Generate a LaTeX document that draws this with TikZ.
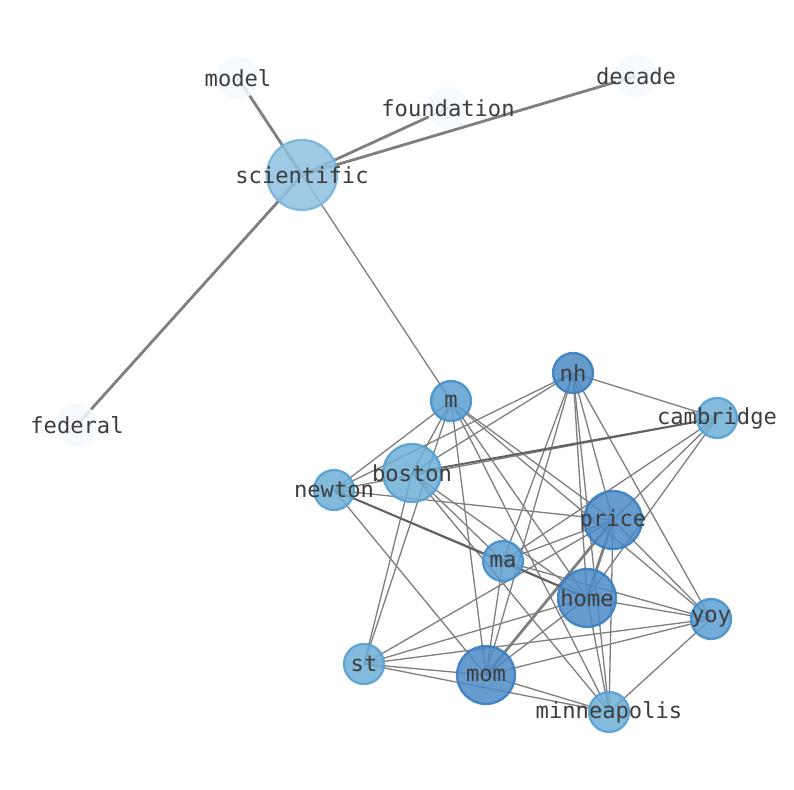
\documentclass[tikz,border=0pt]{standalone}
\usepackage{fontspec}
\setmonofont{DejaVu Sans Mono}
\usetikzlibrary{backgrounds}
\definecolor{palefill}{HTML}{F4F9FE}
\definecolor{scifill}{HTML}{8EC1E1}
\definecolor{sciline}{HTML}{78B4DB}
\definecolor{lightfill}{HTML}{6DAFD7}
\definecolor{lightline}{HTML}{55A1D3}
\definecolor{midfill}{HTML}{5C9FD1}
\definecolor{midline}{HTML}{4690CA}
\definecolor{darkfill}{HTML}{4B8AC6}
\definecolor{darkline}{HTML}{3A7DC0}
\definecolor{edgegray}{HTML}{7F7F7F}

\begin{document}
\begin{tikzpicture}[x=0.02cm,y=-0.02cm,
		word/.style={circle,inner sep=0pt,fill opacity=0.85,draw opacity=0.9,line width=1.3pt},
		pale/.style={word,minimum size=0.8cm,fill=palefill,draw=palefill},
		sci/.style={word,minimum size=1.4cm,fill=scifill,draw=sciline},
		small/.style={word,minimum size=0.8cm,fill=lightfill,draw=lightline},
		smallmid/.style={word,minimum size=0.8cm,fill=midfill,draw=midline},
		smalldark/.style={word,minimum size=0.8cm,fill=darkfill,draw=darkline},
		big/.style={word,minimum size=1.16cm,fill=lightfill,draw=lightline},
		bigdark/.style={word,minimum size=1.16cm,fill=darkfill,draw=darkline},
		lbl/.style={font=\ttfamily\fontsize{12.6}{14}\selectfont,text=black!76,text opacity=1,inner sep=0pt},
		link/.style={edgegray,line width=0.75pt},
		heavy/.style={edgegray,line width=1.6pt}
	]
	\useasboundingbox (0,0) rectangle (794,790);
	% words
	\node[pale, label={[lbl]center:model}] (model) at (238,78) {};
	\node[pale, label={[lbl]center:foundation}] (foundation) at (448,108) {};
	\node[pale, label={[lbl]center:decade}] (decade) at (636,76) {};
	\node[pale, label={[lbl]center:federal}] (federal) at (77,425) {};
	\node[sci, label={[lbl]center:scientific}] (scientific) at (302,175) {};
	\node[smallmid, label={[lbl]center:m}] (m) at (451,401) {};
	\node[smalldark, label={[lbl]center:nh}] (nh) at (573,373) {};
	\node[small, label={[lbl]center:cambridge}] (cambridge) at (717,418) {};
	\node[big, label={[lbl]center:boston}] (boston) at (412,473) {};
	\node[small, label={[lbl]center:newton}] (newton) at (334,490) {};
	\node[bigdark, label={[lbl]center:price}] (price) at (613,520) {};
	\node[smallmid, label={[lbl]center:ma}] (ma) at (503,561) {};
	\node[bigdark, label={[lbl]center:home}] (home) at (587,598) {};
	\node[smallmid, label={[lbl]center:yoy}] (yoy) at (711,619) {};
	\node[small, label={[lbl]center:st}] (st) at (364,664) {};
	\node[bigdark, label={[lbl]center:mom}] (mom) at (486,675) {};
	\node[small, label={[lbl]center:minneapolis}] (minneapolis) at (609,712) {};
	% links
	\begin{scope}[on background layer]
		\foreach \a/\b in {scientific/m,
				m/newton, m/boston, m/st, m/mom, m/minneapolis, m/home, m/price, m/yoy,
				nh/newton, nh/boston, nh/ma, nh/mom, nh/home, nh/price, nh/minneapolis, nh/yoy, nh/cambridge,
				cambridge/newton, cambridge/ma, cambridge/price, cambridge/home,
				boston/st, boston/ma, boston/home, boston/minneapolis,
				newton/price, newton/ma, newton/mom,
				st/price, st/home, st/yoy, st/mom, st/minneapolis,
				ma/price, ma/home, ma/yoy, ma/mom,
				price/yoy, price/minneapolis,
				home/yoy, home/mom, home/minneapolis,
				yoy/mom, yoy/minneapolis, mom/minneapolis}
			\draw[link] (\a.center) -- (\b.center);
		\foreach \a/\b in {scientific/model, scientific/foundation, scientific/decade, scientific/federal,
				price/mom, price/home}
			\draw[heavy] (\a.center) -- (\b.center);
		\draw[link, line width=1.1pt, black!62] (cambridge.center) -- (boston.center);
		\draw[link, line width=1.1pt, black!62] (newton.center) -- (home.center);
	\end{scope}
\end{tikzpicture}
\end{document}
